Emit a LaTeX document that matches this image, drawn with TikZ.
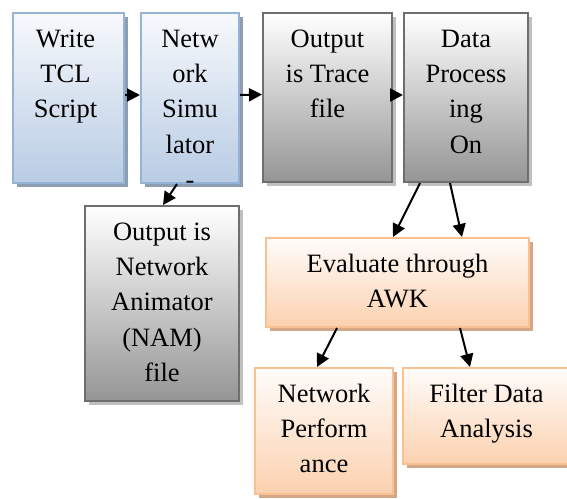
\documentclass[tikz,border=0pt]{standalone}
\usepackage{fontspec}
\setmainfont{Liberation Serif}
\usetikzlibrary{shadows,arrows.meta}
\definecolor{blueTop}{HTML}{F7F9FC}
\definecolor{blueBot}{HTML}{B8CCE4}
\definecolor{blueLine}{HTML}{95B3D7}
\definecolor{blueShadow}{HTML}{8D9DB2}
\definecolor{grayTop}{HTML}{FFFFFF}
\definecolor{grayBot}{HTML}{959595}
\definecolor{grayLine}{HTML}{6E6E6E}
\definecolor{grayShadow}{HTML}{C0C0C0}
\definecolor{orTop}{HTML}{FFFCFA}
\definecolor{orBot}{HTML}{FBD1AF}
\definecolor{orLine}{HTML}{FAC090}
\definecolor{orShadow}{HTML}{D2A886}
\tikzset{
  box/.style={rectangle, line width=2pt, inner sep=0pt},
  bluebox/.style={box, draw=blueLine, top color=blueTop, bottom color=blueBot,
    drop shadow={shadow xshift=4pt, shadow yshift=-4pt, fill=blueShadow, opacity=1}},
  graybox/.style={box, draw=grayLine, top color=grayTop, bottom color=grayBot,
    drop shadow={shadow xshift=4pt, shadow yshift=-4pt, fill=grayShadow, opacity=1}},
  orbox/.style={box, draw=orLine, top color=orTop, bottom color=orBot,
    drop shadow={shadow xshift=4pt, shadow yshift=-4pt, fill=orShadow, opacity=1}},
  txt/.style={inner sep=0pt, align=center, anchor=north, font=\fontsize{26.5}{35.3}\selectfont},
  arr/.style={line width=2pt, -{Triangle[length=13pt,width=13pt]}}
}
\newcommand{\fl}{\rule{0pt}{20pt}}
\begin{document}
\begin{tikzpicture}[x=1pt,y=-1pt]
\useasboundingbox (0,0) rectangle (567,498);
\clip (0,0) rectangle (567,498);
\fill[white] (0,0) rectangle (567,498);
% boxes
\node[bluebox, minimum width=111pt, minimum height=170pt] (b1) at (68.5,98) {};
\node[bluebox, minimum width=98pt, minimum height=170pt] (b2) at (190,98) {};
\node[graybox, minimum width=129pt, minimum height=169pt] (b3) at (327.5,97.5) {};
\node[graybox, minimum width=124pt, minimum height=169pt] (b4) at (466,97.5) {};
\node[graybox, minimum width=154pt, minimum height=195pt] (b5) at (162,303.5) {};
\node[orbox, minimum width=263pt, minimum height=89pt] (b6) at (397.5,282.5) {};
\node[orbox, minimum width=138pt, minimum height=126pt] (b7) at (324,431) {};
\node[orbox, minimum width=170pt, minimum height=96pt] (b8) at (488,416) {};
% texts
\node[txt] (t1) at ([xshift=-3pt,yshift=-15pt]b1.north) {\fl Write\\TCL\\Script};
\node[txt] (t2) at ([yshift=-15pt]b2.north) {\fl Netw\\ork\\Simu\\lator\\-};
\node[txt] (t3) at ([yshift=-15pt]b3.north) {\fl Output\\is Trace\\file};
\node[txt] (t4) at ([yshift=-15pt]b4.north) {\fl Data\\Process\\ing\\On};
\node[txt] (t5) at ([yshift=-15pt]b5.north) {\fl Output is\\Network\\Animator\\(NAM)\\file};
\node[txt] (t6) at ([yshift=-15pt]b6.north) {\fl Evaluate through\\AWK};
\node[txt] (t7) at ([yshift=-15pt]b7.north) {\fl Network\\Perform\\ance};
\node[txt] (t8) at ([xshift=-1.5pt,yshift=-15pt]b8.north) {\fl Filter Data\\Analysis};
% arrows
\draw[arr] ([yshift=3pt]b1.east) -- ([yshift=3pt]b2.west);
\draw[arr] ([yshift=3pt]b2.east) -- ([yshift=3pt]b3.west);
\draw[arr] ([yshift=2.5pt]b3.east) -- ([yshift=2.5pt]b4.west);
\draw[arr] ([xshift=-13pt]b2.south) -- ([xshift=1pt]b5.north);
\draw[arr] ([xshift=-46pt]b4.south) -- ([xshift=-4.5pt]b6.north);
\draw[arr] ([xshift=-16pt]b4.south) -- ([xshift=64.5pt]b6.north);
\draw[arr] ([xshift=-60.5pt]b6.south) -- ([xshift=-7pt]b7.north);
\draw[arr] ([xshift=62.5pt]b6.south) -- ([xshift=-18pt]b8.north);
\end{tikzpicture}
\end{document}
